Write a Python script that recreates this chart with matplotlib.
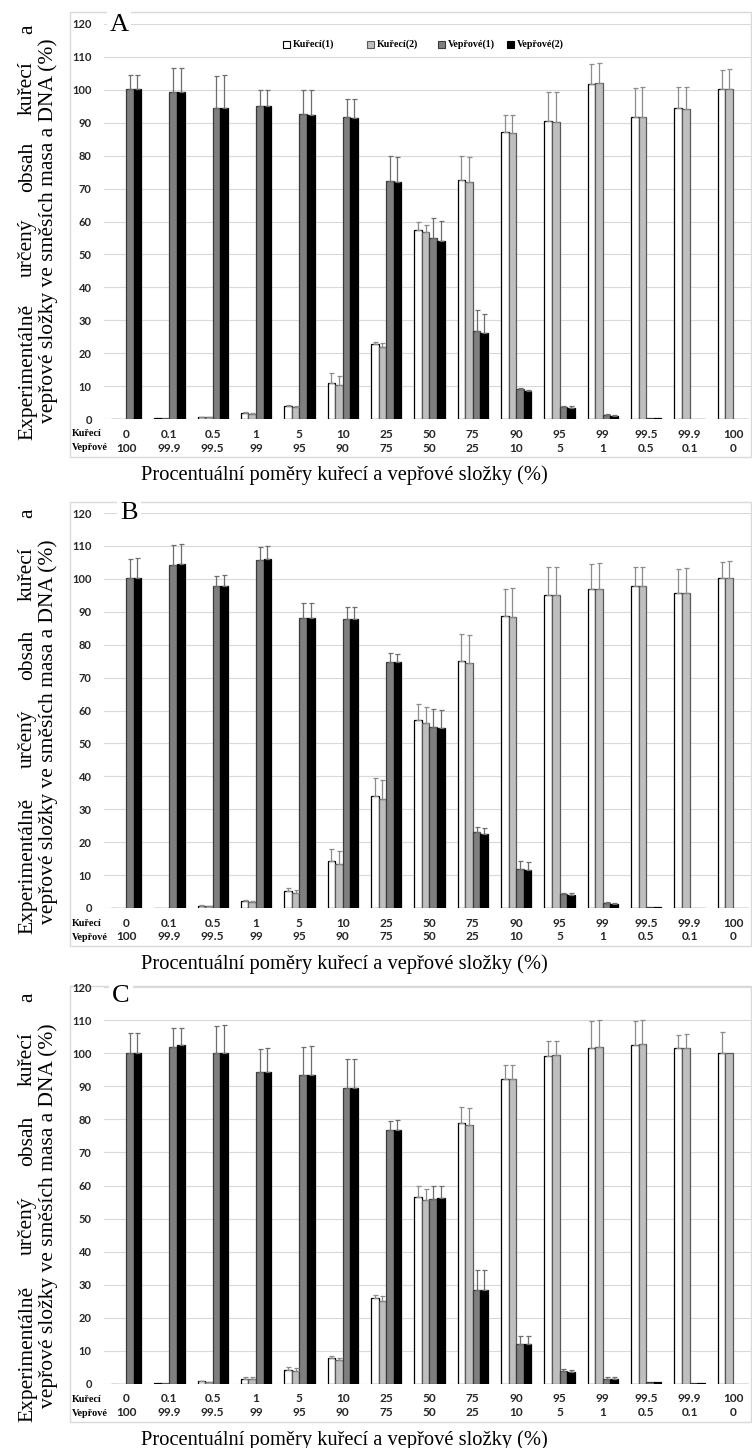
import numpy as np
import matplotlib
matplotlib.use('Agg')
import matplotlib.pyplot as plt
from matplotlib.patches import Rectangle
from matplotlib.transforms import blended_transform_factory

# category labels (table under the x axis)
kureci = ['0', '0.1', '0.5', '1', '5', '10', '25', '50', '75', '90', '95', '99', '99.5', '99.9', '100']
veprove = ['100', '99.9', '99.5', '99', '95', '90', '75', '50', '25', '10', '5', '1', '0.5', '0.1', '0']
series_names = ['Kuřecí(1)', 'Kuřecí(2)', 'Vepřové(1)', 'Vepřové(2)']

# panel A
a_k1 = [0, 0.2, 0.6, 1.8, 4.1, 11.0, 22.8, 57.4, 72.7, 87.1, 90.4, 101.8, 91.7, 94.4, 100.2]
a_k1_err = [0, 0, 0.1, 0.3, 0.3, 3.0, 0.7, 2.5, 7.3, 5.2, 8.9, 6.0, 8.8, 6.4, 5.7]
a_k2 = [0, 0.2, 0.5, 1.6, 3.7, 10.3, 22.0, 56.8, 72.1, 86.8, 90.2, 102.2, 91.6, 94.2, 100.3]
a_k2_err = [0, 0, 0.1, 0.3, 0.4, 2.7, 1.0, 2.0, 7.5, 5.5, 9.1, 5.9, 9.2, 6.6, 5.9]
a_v1 = [100.3, 99.4, 94.6, 95.1, 92.6, 91.7, 72.3, 55.0, 26.8, 9.0, 3.6, 1.2, 0.3, 0.1, 0]
a_v1_err = [4.2, 7.3, 9.7, 4.7, 7.4, 5.5, 7.7, 6.0, 6.2, 0.3, 0.5, 0.2, 0, 0, 0]
a_v2 = [100.2, 99.3, 94.6, 95.0, 92.3, 91.5, 72.0, 54.2, 26.0, 8.5, 3.3, 1.0, 0.3, 0.1, 0]
a_v2_err = [4.4, 7.2, 9.8, 4.8, 7.6, 5.6, 7.6, 6.1, 6.0, 0.3, 0.5, 0.2, 0, 0, 0]

# panel B
b_k1 = [0, 0.1, 0.7, 2.0, 5.3, 14.2, 34.0, 57.1, 74.9, 88.8, 95.0, 97.0, 97.7, 95.6, 100.2]
b_k1_err = [0, 0, 0.1, 0.4, 0.7, 3.8, 5.5, 4.8, 8.3, 8.2, 8.5, 7.6, 5.8, 7.3, 5.0]
b_k2 = [0, 0.1, 0.6, 1.7, 4.6, 13.5, 33.2, 56.1, 74.4, 88.4, 95.0, 97.0, 97.7, 95.7, 100.3]
b_k2_err = [0, 0, 0.1, 0.4, 0.9, 3.7, 5.6, 5.1, 8.5, 8.8, 8.5, 7.8, 5.8, 7.5, 5.2]
b_v1 = [100.2, 104.3, 97.7, 105.7, 88.1, 87.8, 74.6, 55.0, 23.0, 12.0, 4.3, 1.4, 0.3, 0.1, 0]
b_v1_err = [5.9, 6.0, 3.3, 4.1, 4.7, 3.7, 2.8, 5.5, 1.5, 2.3, 0.4, 0.3, 0, 0, 0]
b_v2 = [100.3, 104.5, 97.7, 106.0, 88.1, 87.8, 74.6, 54.6, 22.5, 11.5, 4.1, 1.2, 0.3, 0.1, 0]
b_v2_err = [6.1, 6.1, 3.6, 4.1, 4.7, 3.7, 2.7, 5.6, 1.7, 2.5, 0.4, 0.3, 0, 0, 0]

# panel C
c_k1 = [0, 0.2, 0.8, 1.6, 4.3, 7.8, 26.0, 56.4, 78.8, 92.1, 99.0, 101.6, 102.4, 101.5, 100.0]
c_k1_err = [0, 0, 0.1, 0.6, 0.9, 0.8, 1.0, 3.5, 5.0, 4.3, 4.6, 8.0, 7.2, 4.1, 6.3]
c_k2 = [0, 0.2, 0.6, 1.4, 3.9, 7.2, 25.0, 55.6, 78.4, 92.1, 99.3, 101.9, 102.7, 101.7, 100.2]
c_k2_err = [0, 0, 0.1, 0.6, 0.9, 0.8, 1.5, 3.3, 5.0, 4.3, 4.5, 8.0, 7.2, 4.2, 0]
c_v1 = [100.0, 102.0, 100.0, 94.3, 93.3, 89.5, 76.8, 56.0, 28.5, 12.0, 4.0, 1.5, 0.5, 0.2, 0]
c_v1_err = [6.1, 5.6, 8.3, 7.1, 8.7, 8.8, 2.7, 3.9, 6.0, 2.5, 0.5, 0.5, 0, 0, 0]
c_v2 = [100.0, 102.4, 100.0, 94.3, 93.3, 89.5, 76.8, 56.1, 28.5, 12.0, 3.7, 1.4, 0.5, 0.2, 0]
c_v2_err = [6.1, 5.1, 8.5, 7.2, 9.0, 8.8, 2.9, 3.8, 6.0, 2.5, 0.6, 0.6, 0, 0, 0]

faces = ['white', '#bfbfbf', '#7f7f7f', 'black']
edges = ['black', '#595959', '#3a3a3a', 'black']
ecolors = ['#8c8c8c', '#8c8c8c', '#6e6e6e', '#6e6e6e']

SERIF = 'Liberation Serif'
SANS = 'Lato'

W, H = 752, 1448
fig = plt.figure(figsize=(W / 100, H / 100), dpi=100)


def fx(x):
    return x / W


def fy(y):
    return 1 - y / H


# layout of each panel in pixels
layout = [
    dict(letter='A', y120=24, y0=419, ftop=12, fbot=457, lx=119, ly=25,
         yl1=(440, 25), yl2=(440, 22)),
    dict(letter='B', y120=513, y0=908, ftop=502, fbot=946, lx=129, ly=513,
         yl1=(934, 508), yl2=(936, 527)),
    dict(letter='C', y120=987, y0=1384, ftop=986, fbot=1422, lx=121, ly=996,
         yl1=(1422, 992), yl2=(1424, 1008)),
]
panel_data = [
    [(a_k1, a_k1_err), (a_k2, a_k2_err), (a_v1, a_v1_err), (a_v2, a_v2_err)],
    [(b_k1, b_k1_err), (b_k2, b_k2_err), (b_v1, b_v1_err), (b_v2, b_v2_err)],
    [(c_k1, c_k1_err), (c_k2, c_k2_err), (c_v1, c_v1_err), (c_v2, c_v2_err)],
]

renderer = fig.canvas.get_renderer()
LABEL_FS = 15.5


def justified_vertical(words, xb, ybot, ytop):
    texts = [fig.text(0, 0, w, rotation=90, rotation_mode='anchor', ha='left',
                      va='baseline', family=SERIF, fontsize=LABEL_FS) for w in words]
    lens = [t.get_window_extent(renderer).height for t in texts]
    gap = ((ybot - ytop) - sum(lens)) / (len(words) - 1)
    pos = ybot
    for t, L in zip(texts, lens):
        t.set_position((fx(xb), fy(pos)))
        pos -= L + gap


def draw_panel(p, data):
    left = 104.3
    ax = fig.add_axes([fx(left), fy(p['y0']), 1 - fx(left), (p['y0'] - p['y120']) / H])
    ax.set_xlim(-0.5, 14.44)
    ax.set_ylim(0, 120)
    ax.set_yticks(np.arange(0, 121, 10))
    ax.set_xticks([])
    ax.grid(axis='y', color='#d9d9d9', lw=0.8)
    ax.set_axisbelow(True)
    ax.tick_params(axis='y', length=0, pad=9, labelsize=8, labelcolor='#262626')
    for lab in ax.get_yticklabels():
        lab.set_fontweight('bold')
        lab.set_family(SANS)
    for s in ax.spines.values():
        s.set_visible(False)
    ax.patch.set_alpha(0)

    x = np.arange(len(kureci))
    width = 0.175
    for j, (vals, errs) in enumerate(data):
        off = (j - 1.5) * width
        vals = np.asarray(vals, float)
        errs = np.asarray(errs, float)
        ax.bar(x + off, vals, width, color=faces[j], edgecolor=edges[j], linewidth=0.9, zorder=2)
        m = errs > 0
        ax.errorbar(x[m] + off, vals[m], yerr=[np.zeros(m.sum()), errs[m]], fmt='none',
                    ecolor=ecolors[j], elinewidth=0.9, capsize=1.8, capthick=0.9, zorder=3)

    # table rows under the axis
    trans = blended_transform_factory(ax.transData, fig.transFigure)
    row1 = p['y0'] + 15
    row2 = p['y0'] + 29
    for i in range(len(kureci)):
        ax.text(i, fy(row1), kureci[i], transform=trans, ha='center', va='center',
                fontsize=8.6, fontweight='bold', family=SANS, color='#262626')
        ax.text(i, fy(row2), veprove[i], transform=trans, ha='center', va='center',
                fontsize=8.6, fontweight='bold', family=SANS, color='#262626')
    fig.text(fx(72), fy(row1), 'Kuřecí', ha='left', va='center', family=SERIF,
             fontweight='bold', fontsize=7.3)
    fig.text(fx(72), fy(row2), 'Vepřové', ha='left', va='center', family=SERIF,
             fontweight='bold', fontsize=7.3)

    # light frame round the chart
    fig.add_artist(Rectangle((fx(70), fy(p['fbot'])), fx(751) - fx(70),
                             (p['fbot'] - p['ftop']) / H, transform=fig.transFigure,
                             fill=False, edgecolor='#d9d9d9', lw=1, zorder=0))
    fig.text(fx(p['lx']), fy(p['ly']), p['letter'], ha='center', va='center',
             family=SERIF, fontsize=19, zorder=5,
             bbox=dict(facecolor='white', edgecolor='none', pad=2))

    # x label
    fig.text(fx(344), fy(p['y0'] + 56), 'Procentuální poměry kuřecí a vepřové složky (%)',
             ha='center', va='center', family=SERIF, fontsize=14.8)

    # y label, two lines, the first one justified
    justified_vertical(['Experimentálně', 'určený', 'obsah', 'kuřecí', 'a'],
                       32, p['yl1'][0], p['yl1'][1])
    yb, yt = p['yl2']
    fig.text(fx(53), fy((yb + yt) / 2), 'vepřové složky ve směsích masa a DNA (%)',
             rotation=90, rotation_mode='anchor', ha='center', va='baseline',
             family=SERIF, fontsize=LABEL_FS)
    return ax


for p, d in zip(layout, panel_data):
    draw_panel(p, d)

# legend only on panel A
leg_box_x = [283, 367, 438, 507]
for j, name in enumerate(series_names):
    fig.add_artist(Rectangle((fx(leg_box_x[j]), fy(48)), 7 / W, 7 / H, transform=fig.transFigure,
                             facecolor=faces[j], edgecolor=edges[j], lw=0.8))
    fig.text(fx(leg_box_x[j] + 10), fy(44.5), name, ha='left', va='center', family=SERIF,
             fontweight='bold', fontsize=7.2)

fig.savefig('out.png', dpi=100)
